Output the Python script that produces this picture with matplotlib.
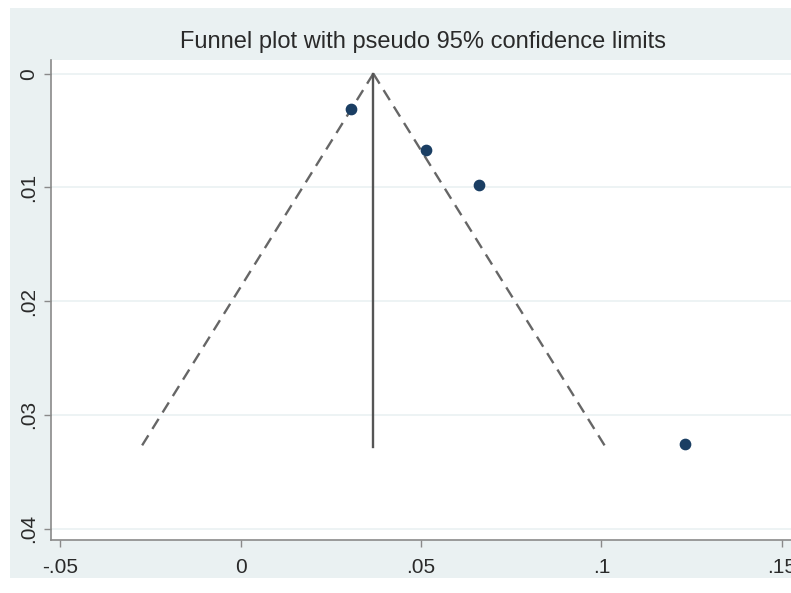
import numpy as np
import matplotlib.pyplot as plt
from matplotlib.patches import Rectangle

# Study estimates and standard errors
effect = [0.0306, 0.0514, 0.0661, 0.1231]
se = [0.0031, 0.0067, 0.0098, 0.0326]

# Pooled estimate and funnel extent
theta = 0.0368
se_max = 0.0328

xticks = [-0.05, 0, 0.05, 0.1, 0.15]
xlabels = ['-.05', '0', '.05', '.1', '.15']
yticks = [0, 0.01, 0.02, 0.03, 0.04]
ylabels = ['0', '.01', '.02', '.03', '.04']

W, H = 791, 593
fig = plt.figure(figsize=(W / 100, H / 100), dpi=100)
fig.patch.set_facecolor('white')

# light Stata-like background band
fig.patches.append(Rectangle((10 / W, 1 - 578 / H), 1, (578 - 8) / H,
                             transform=fig.transFigure, facecolor='#eaf1f2',
                             edgecolor='none', zorder=-5))

ax = fig.add_axes([51 / W, 1 - 540 / H, (800 - 51) / W, (540 - 60) / H])
ax.set_zorder(2)
ax.set_facecolor('white')

# funnel limits
s = np.array([0, se_max])
ax.plot(theta - 1.96 * s, s, color='#666666', lw=1.7, ls=(0, (5, 3.2)))
ax.plot(theta + 1.96 * s, s, color='#666666', lw=1.7, ls=(0, (5, 3.2)))
ax.plot([theta, theta], [0, se_max], color='#555555', lw=1.7)

ax.scatter(effect, se, s=55, color='#1a3e63', zorder=3)

ax.set_xlim(-0.0525, 0.1550)
ax.set_ylim(0.0410, -0.0012)

ax.set_xticks(xticks)
ax.set_xticklabels(xlabels)
ax.set_yticks(yticks)
ax.set_yticklabels(ylabels, rotation=90, va='center')

for t in yticks:
    ax.axhline(t, color='#eaf1f2', lw=1.2, zorder=0)

for sp in ['top', 'right']:
    ax.spines[sp].set_visible(False)
for sp in ['left', 'bottom']:
    ax.spines[sp].set_color('#8a8a8a')
    ax.spines[sp].set_linewidth(1.2)

ax.tick_params(colors='#8a8a8a', labelcolor='#2a2a2a', labelsize=15,
               length=5, width=1)
ax.tick_params(axis='x', pad=8)
ax.tick_params(axis='y', pad=4)

fig.text(423 / W, 1 - 42 / H, 'Funnel plot with pseudo 95% confidence limits',
         ha='center', va='center', fontsize=17, color='#2a2a2a',
         family='Liberation Sans')
for lab in ax.get_xticklabels() + ax.get_yticklabels():
    lab.set_family('Liberation Sans')

fig.savefig('out.png', dpi=100)
